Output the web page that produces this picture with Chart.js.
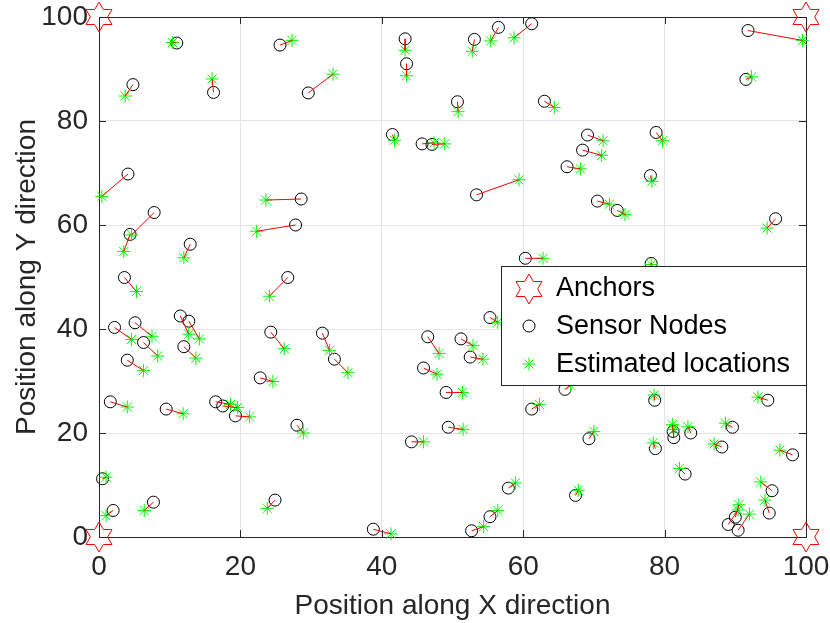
<!DOCTYPE html>
<html>
<head>
<meta charset="utf-8">
<title>Sensor localisation</title>
<script src="https://cdn.jsdelivr.net/npm/chart.js@4/dist/chart.umd.min.js"></script>
<style>
  html, body { margin: 0; padding: 0; background: #fff; }
  #wrap { width: 830px; height: 623px; }
</style>
</head>
<body>
<div id="wrap"><canvas id="c" width="830" height="623"></canvas></div>
<script>
// anchor positions (corners)
const anchorX = [0, 0, 100, 100];
const anchorY = [0, 100, 0, 100];

// true sensor node positions
const nodeX = [11.0, 4.8, 16.2, 25.6, 29.6, 4.1, 7.8, 4.4, 12.9, 28.6, 27.8, 3.6, 26.7, 2.2, 5.1, 6.3, 4.0, 11.5, 12.7, 12.0,
  24.3, 31.6, 33.3, 22.8, 1.6, 9.5, 16.5, 17.5, 19.3, 28.0, 0.5, 2.0, 7.7, 24.9, 43.3, 43.5, 53.1, 56.5, 61.2, 50.7,
  63.0, 41.5, 45.7, 47.1, 53.4, 66.2, 60.3, 91.8, 91.5, 69.1, 68.4, 78.8, 78.0, 70.5, 73.3, 95.7, 78.1, 55.3, 46.5, 51.2,
  52.5, 45.9, 49.1, 49.4, 44.2, 61.2, 65.9, 57.9, 55.3, 52.7, 38.8, 78.6, 69.3, 78.7, 81.3, 81.2, 83.7, 89.6, 88.1, 94.6,
  98.1, 82.9, 67.4, 95.2, 94.8, 90.0, 89.0, 90.4];
const nodeY = [95.0, 87.0, 85.5, 94.6, 85.4, 69.8, 62.4, 58.2, 56.3, 65.0, 60.0, 49.9, 49.9, 40.3, 41.2, 37.4, 34.0, 42.5, 41.5, 36.6,
  39.4, 39.2, 34.2, 30.6, 26.0, 24.6, 26.0, 25.2, 23.3, 21.5, 11.2, 5.1, 6.7, 7.1, 95.8, 91.0, 95.7, 98.0, 98.7, 83.7,
  83.8, 77.4, 75.6, 75.5, 65.8, 71.2, 53.6, 97.4, 88.0, 77.3, 74.4, 77.8, 69.5, 64.6, 62.8, 61.2, 52.6, 42.2, 38.5, 38.1,
  34.6, 32.5, 27.8, 21.1, 18.3, 24.6, 28.4, 9.4, 3.9, 1.2, 1.5, 26.3, 18.9, 17.0, 19.1, 20.3, 20.0, 21.1, 17.3, 26.3,
  15.8, 12.1, 8.0, 8.9, 4.6, 3.8, 2.4, 1.3];

// estimated locations, same order as the nodes
const estX = [10.4, 3.7, 16.0, 27.3, 33.1, 0.4, 4.6, 3.5, 12.0, 23.6, 22.3, 5.3, 24.1, 4.6, 7.5, 8.3, 6.3, 12.7, 14.2, 13.7,
  26.2, 32.6, 35.2, 24.6, 4.0, 11.9, 18.6, 19.6, 21.3, 28.9, 1.0, 1.0, 6.4, 23.8, 43.3, 43.5, 52.8, 55.4, 58.7, 50.8,
  64.4, 41.8, 47.4, 48.9, 59.4, 68.1, 62.8, 99.5, 92.3, 71.3, 71.1, 79.7, 78.2, 72.2, 74.4, 94.5, 78.1, 56.4, 48.1, 52.9,
  54.3, 47.8, 51.4, 51.5, 45.9, 62.3, 66.7, 58.9, 56.4, 54.4, 41.3, 78.5, 70.0, 78.4, 81.1, 81.3, 83.3, 88.6, 87.0, 93.2,
  96.3, 82.1, 67.8, 93.6, 94.2, 90.5, 90.4, 92.0];
const estY = [95.1, 84.8, 88.1, 95.5, 89.0, 65.5, 58.1, 54.9, 53.7, 64.8, 58.8, 47.2, 46.3, 38.0, 38.6, 34.8, 32.0, 39.0, 38.1, 34.4,
  36.2, 35.9, 31.6, 29.9, 25.0, 23.7, 25.5, 24.9, 23.1, 20.0, 11.5, 4.1, 5.1, 5.5, 93.6, 88.7, 93.4, 95.4, 96.0, 81.8,
  82.6, 76.3, 75.8, 75.6, 68.7, 70.8, 53.6, 95.5, 88.5, 76.2, 73.4, 76.2, 68.4, 64.0, 62.0, 59.4, 52.4, 41.3, 35.3, 36.8,
  34.2, 31.3, 27.8, 20.7, 18.3, 25.5, 29.2, 10.4, 5.1, 2.0, 0.6, 27.3, 20.3, 18.1, 21.6, 20.7, 21.2, 21.9, 17.9, 26.9,
  16.7, 13.2, 9.0, 10.6, 7.1, 6.2, 5.2, 4.4];

const axisTicks = [0, 20, 40, 60, 80, 100];

const FONT = "'Liberation Sans', Arial, Helvetica, sans-serif";
const INK = '#262626';

// red hexagram used for the anchors
function hexagram(R) {
  const s = Math.ceil(2 * R + 4);
  const c = document.createElement('canvas');
  c.width = s; c.height = s;
  const g = c.getContext('2d');
  const r = R / Math.sqrt(3);
  g.beginPath();
  for (let i = 0; i < 12; i++) {
    const a = -Math.PI / 2 + i * Math.PI / 6;
    const rr = i % 2 ? r : R;
    g.lineTo(s / 2 + rr * Math.cos(a), s / 2 + rr * Math.sin(a));
  }
  g.closePath();
  g.strokeStyle = '#ff0000';
  g.lineWidth = 1;
  g.stroke();
  return c;
}
const hexImg = hexagram(15);

const pts = (xs, ys) => xs.map((x, i) => ({x: x, y: ys[i]}));

// node -> estimate segments, broken by null points
const errorSegs = [];
nodeX.forEach((x, i) => {
  errorSegs.push({x: x, y: nodeY[i]});
  errorSegs.push({x: estX[i], y: estY[i]});
  errorSegs.push({x: estX[i], y: null});
});

// no extra room for the end tick labels, the chart area is set by layout padding
function noPad(s) {
  s.paddingLeft = 0; s.paddingRight = 0; s.paddingTop = 0; s.paddingBottom = 0;
}

// box, inward tick marks
const boxPlugin = {
  id: 'box',
  beforeDatasetsDraw(chart) {
    const {ctx, chartArea: a, scales} = chart;
    ctx.save();
    ctx.strokeStyle = INK;
    ctx.lineWidth = 1;
    ctx.beginPath();
    axisTicks.forEach(v => {
      const px = Math.round(scales.x.getPixelForValue(v)) + 0.5;
      const py = Math.round(scales.y.getPixelForValue(v)) + 0.5;
      ctx.moveTo(px, a.bottom); ctx.lineTo(px, a.bottom - 7);
      ctx.moveTo(px, a.top); ctx.lineTo(px, a.top + 7);
      ctx.moveTo(a.left, py); ctx.lineTo(a.left + 7, py);
      ctx.moveTo(a.right, py); ctx.lineTo(a.right - 7, py);
    });
    ctx.stroke();
    ctx.strokeRect(Math.round(a.left) + 0.5, Math.round(a.top) + 0.5,
      Math.round(a.right - a.left), Math.round(a.bottom - a.top));
    ctx.restore();
  }
};

// MATLAB style legend inside the axes
const legendPlugin = {
  id: 'mlegend',
  afterDraw(chart) {
    const {ctx, chartArea: a} = chart;
    const x0 = 501, y0 = 266, w = Math.round(a.right) - x0, h = 119;
    ctx.save();
    ctx.fillStyle = '#fff';
    ctx.fillRect(x0, y0, w, h);
    ctx.strokeStyle = INK;
    ctx.lineWidth = 1;
    ctx.strokeRect(x0 + 0.5, y0 + 0.5, w, h);

    const mx = 529, tx = 556;
    const rows = [289, 327, 365];
    ctx.drawImage(hexImg, mx - hexImg.width / 2, rows[0] - hexImg.height / 2);

    ctx.beginPath();
    ctx.arc(mx, rows[1] - 1, 6, 0, Math.PI * 2);
    ctx.strokeStyle = '#000';
    ctx.stroke();

    ctx.beginPath();
    ctx.strokeStyle = '#00ff00';
    for (let k = 0; k < 4; k++) {
      const ang = k * Math.PI / 4;
      ctx.moveTo(mx - 6.5 * Math.cos(ang), rows[2] - 1 - 6.5 * Math.sin(ang));
      ctx.lineTo(mx + 6.5 * Math.cos(ang), rows[2] - 1 + 6.5 * Math.sin(ang));
    }
    ctx.stroke();

    ctx.fillStyle = '#000';
    ctx.font = '27px ' + FONT;
    ctx.textBaseline = 'middle';
    ctx.textAlign = 'left';
    ctx.fillText('Anchors', tx, rows[0]);
    ctx.fillText('Sensor Nodes', tx, rows[1]);
    ctx.fillText('Estimated locations', tx, rows[2]);
    ctx.restore();
  }
};

new Chart(document.getElementById('c').getContext('2d'), {
  type: 'scatter',
  data: {
    datasets: [
      {
        label: 'Anchors',
        data: pts(anchorX, anchorY),
        pointStyle: hexImg,
        pointRadius: 15,
        clip: false,
        order: 3
      },
      {
        label: 'Sensor Nodes',
        data: pts(nodeX, nodeY),
        pointStyle: 'circle',
        pointRadius: 6,
        pointBorderColor: '#000',
        pointBackgroundColor: 'rgba(0,0,0,0)',
        pointBorderWidth: 1,
        clip: false,
        order: 2
      },
      {
        label: 'Estimated locations',
        data: pts(estX, estY),
        pointStyle: 'star',
        pointRadius: 6.5,
        pointBorderColor: '#00ff00',
        pointBackgroundColor: '#00ff00',
        pointBorderWidth: 1,
        clip: false,
        order: 1
      },
      {
        label: 'error',
        data: errorSegs,
        showLine: true,
        spanGaps: false,
        borderColor: '#ff0000',
        borderWidth: 1,
        pointRadius: 0,
        clip: false,
        order: 0
      }
    ]
  },
  options: {
    responsive: false,
    animation: false,
    events: [],
    layout: { padding: { left: 0, right: 24, top: 17, bottom: 0 } },
    plugins: {
      legend: { display: false },
      tooltip: { enabled: false }
    },
    scales: {
      x: {
        type: 'linear',
        min: 0, max: 100,
        afterFit(s) { s.height = 86; noPad(s); },
        afterBuildTicks(s) { s.ticks = axisTicks.map(v => ({value: v})); },
        grid: { color: '#e5e5e5', drawTicks: false },
        border: { display: false },
        ticks: { color: INK, font: { family: FONT, size: 28 }, padding: 13, maxRotation: 0 },
        title: {
          display: true, text: 'Position along X direction', color: INK,
          font: { family: FONT, size: 28 }, padding: { top: 0, bottom: 0 }
        }
      },
      y: {
        type: 'linear',
        min: 0, max: 100,
        afterFit(s) { s.width = 99; noPad(s); },
        afterBuildTicks(s) { s.ticks = axisTicks.map(v => ({value: v})); },
        grid: { color: '#e5e5e5', drawTicks: false },
        border: { display: false },
        ticks: { color: INK, font: { family: FONT, size: 28 }, padding: 11 },
        title: {
          display: true, text: 'Position along Y direction', color: INK,
          font: { family: FONT, size: 28 }, padding: { top: 10, bottom: 0 }
        }
      }
    }
  },
  plugins: [boxPlugin, legendPlugin]
});
</script>
</body>
</html>
